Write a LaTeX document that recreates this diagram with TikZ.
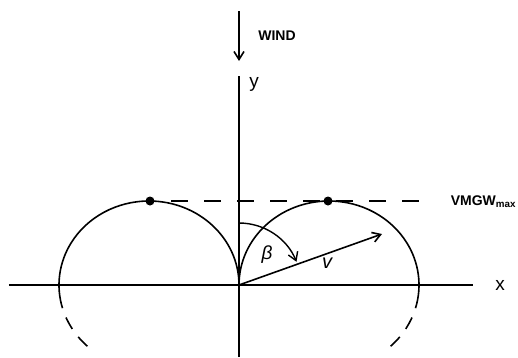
\documentclass[tikz,border=0pt]{standalone}
\usepackage{fontspec}
\setmainfont{Liberation Sans}
\usetikzlibrary{arrows.meta,positioning}

\begin{document}
\begin{tikzpicture}[x=1pt,y=1pt,line width=1.6pt,
  every node/.style={inner sep=0pt},
  barb/.style={-{Straight Barb[length=8pt,width=10pt]}},
  dot/.style={circle,fill,minimum size=9pt},
  axislbl/.style={font=\fontsize{19}{19}\selectfont,anchor=base},
  varlbl/.style={font=\itshape\fontsize{20}{20}\selectfont,anchor=base},
  tag/.style={font=\bfseries\fontsize{14}{14}\selectfont,anchor=base}]
  \useasboundingbox (-239,-72) rectangle (279,285);
  \coordinate (O) at (0,0);
  % axes
  \node[axislbl] (ylab) at (15,198) {y};
  \node[axislbl] (xlab) at (261,-5) {x};
  \coordinate (ytop) at (0,209);
  \coordinate (ybot) at (0,-72);
  \coordinate (xl) at (-230,0);
  \coordinate (xr) at (234,0);
  \draw (xl) -- (xr);
  \draw (ybot) -- (ytop);
  % wind
  \coordinate (wtail) at (0,274);
  \coordinate (whead) at (0,224);
  \draw[barb] (wtail) -- (whead);
  \node[tag] (wind) at (38,245) {WIND};
  % polar lobes
  \foreach \s/\name in {1/r,-1/l}{
    \begin{scope}[xscale=\s]
      \draw (O) arc[start angle=180,end angle=-16,x radius=90,y radius=84];
      \draw[dash pattern=on 13pt off 10pt,dash phase=13pt] (90,0) ++(-16:90 and 84)
        arc[start angle=-16,end angle=-47,x radius=90,y radius=84];
    \end{scope}
    \node[dot] (top\name) at (\s*89,84) {};
  }
  \coordinate (vmgend) at (194,84);
  \draw[dash pattern=on 17pt off 16pt,dash phase=17pt] (topl) -- (vmgend);
  \node[tag,anchor=base west] (vmgw) at (211,80) {VMGW\textsubscript{max}};
  % heading angle and speed
  \coordinate (bstart) at (0,62);
  \draw[barb,line width=1.4pt] (bstart) arc[start angle=90,end angle=22,radius=62];
  \node[font=\itshape\fontsize{19}{19}\selectfont] (beta) at (28,30) {β};
  \coordinate (vtip) at (143,51);
  \draw[barb] (O) -- (vtip);
  \node[varlbl] (v) at (88,17) {v};
\end{tikzpicture}
\end{document}
